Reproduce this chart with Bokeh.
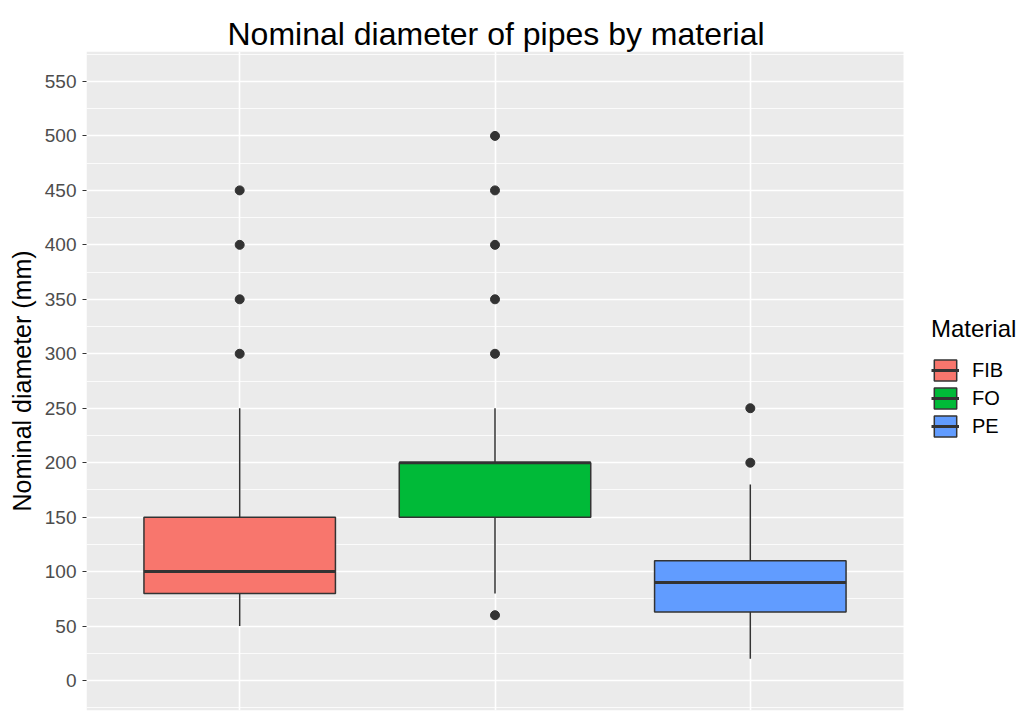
from bokeh.plotting import figure
from bokeh.models import (ColumnDataSource, Range1d, SingleIntervalTicker, FixedTicker,
                          Legend, LegendItem, BoxAnnotation)
from bokeh.embed import file_html
from bokeh.resources import INLINE

# ---- data ----
categories = ["FIB", "FO", "PE"]
whisker_low = [50, 80, 20]
q1 = [80, 150, 63]
median = [100, 200, 90]
q3 = [150, 200, 110]
whisker_high = [250, 250, 180]
outliers_fib = [300, 350, 400, 450]
outliers_fo = [60, 300, 350, 400, 450, 500]
outliers_pe = [200, 250]
colors = ["#F8766D", "#00BA38", "#619CFF"]

FONT = "Liberation Sans"
box_w = 0.75

# layout: panel (grey) area is 817 px wide for x in [0.4, 3.6]; the frame is extended
# to the right so that the legend can live inside it on a white background.
FIG_W, LEFT = 1025, 86
panel_px = 817
x0, x1 = 0.4, 3.6
frame_px = FIG_W - LEFT
x_end = x0 + frame_px * (x1 - x0) / panel_px

pos = [i + 1 for i in range(len(categories))]
box_src = ColumnDataSource(dict(
    x=pos, cat=categories, lo=whisker_low, q1=q1, med=median, q3=q3, hi=whisker_high,
    left=[x - box_w / 2 for x in pos], right=[x + box_w / 2 for x in pos], color=colors,
))

out_x, out_y = [], []
for x, vals in zip(pos, [outliers_fib, outliers_fo, outliers_pe]):
    out_x += [x] * len(vals)
    out_y += vals
out_src = ColumnDataSource(dict(x=out_x, y=out_y))

p = figure(frame_width=frame_px, frame_height=659, output_backend="svg", toolbar_location=None,
           x_range=Range1d(x0, x_end), y_range=Range1d(-27.5, 577.5),
           min_border_left=LEFT, min_border_right=0, min_border_top=51, min_border_bottom=1)

p.background_fill_color = "white"
p.border_fill_color = "white"
p.outline_line_color = None

# grey panel
p.add_layout(BoxAnnotation(left=x0, right=x1, fill_color="#EBEBEB", fill_alpha=1,
                           line_color=None, level="image"))

# title (left-aligned with an offset so that it is centred over the grey panel)
p.title.text = "Nominal diameter of pipes by material"
p.title.text_font = FONT
p.title.text_font_size = "32px"
p.title.text_font_style = "normal"
p.title.text_color = "black"
p.title.align = "left"
p.title.offset = 141
p.title.vertical_align = "bottom"
p.title.standoff = 0

# axes
p.xaxis.visible = False
p.xgrid.ticker = FixedTicker(ticks=pos)
p.xgrid.grid_line_color = "white"
p.xgrid.grid_line_width = 1.6

yticker = SingleIntervalTicker(interval=50, num_minor_ticks=2)
p.yaxis.ticker = yticker
p.ygrid.ticker = yticker
p.ygrid.grid_line_color = "white"
p.ygrid.grid_line_width = 1.6
p.ygrid.minor_grid_line_color = "white"
p.ygrid.minor_grid_line_width = 0.8

ya = p.yaxis[0]
ya.axis_label = "Nominal diameter (mm)"
ya.axis_label_text_font = FONT
ya.axis_label_text_font_size = "25px"
ya.axis_label_text_font_style = "normal"
ya.axis_label_text_color = "black"
ya.axis_label_standoff = 6
ya.major_label_text_font = FONT
ya.major_label_text_font_size = "19px"
ya.major_label_text_color = "#4D4D4D"
ya.major_label_standoff = 6
ya.axis_line_color = None
ya.major_tick_line_color = "#333333"
ya.major_tick_line_width = 1.1
ya.major_tick_in = 0
ya.major_tick_out = 4
ya.minor_tick_line_color = None

# whiskers
p.segment(x0="x", x1="x", y0="q3", y1="hi", source=box_src, line_color="#333333", line_width=1.5)
p.segment(x0="x", x1="x", y0="lo", y1="q1", source=box_src, line_color="#333333", line_width=1.5)
# boxes
boxes = p.vbar(x="x", width=box_w, bottom="q1", top="q3", source=box_src,
               fill_color="color", line_color="#333333", line_width=1.5)
meds = p.segment(x0="left", x1="right", y0="med", y1="med", source=box_src,
                 line_color="#333333", line_width=3)
# outliers
p.scatter(x="x", y="y", source=out_src, size=9, color="#333333")

items = [LegendItem(label=c, renderers=[boxes, meds], index=i) for i, c in enumerate(categories)]
legend = Legend(items=items, title="Material", location=(845, 270),
                title_text_font=FONT, title_text_font_size="24px", title_text_font_style="normal",
                title_text_color="black", title_standoff=13,
                label_text_font=FONT, label_text_font_size="20px", label_text_color="black",
                glyph_width=28, glyph_height=26, label_height=28, label_standoff=13,
                spacing=0, padding=3, margin=0, border_line_color=None,
                background_fill_color="white", background_fill_alpha=0)
p.add_layout(legend)

open("out.html", "w").write(file_html(p, INLINE))
